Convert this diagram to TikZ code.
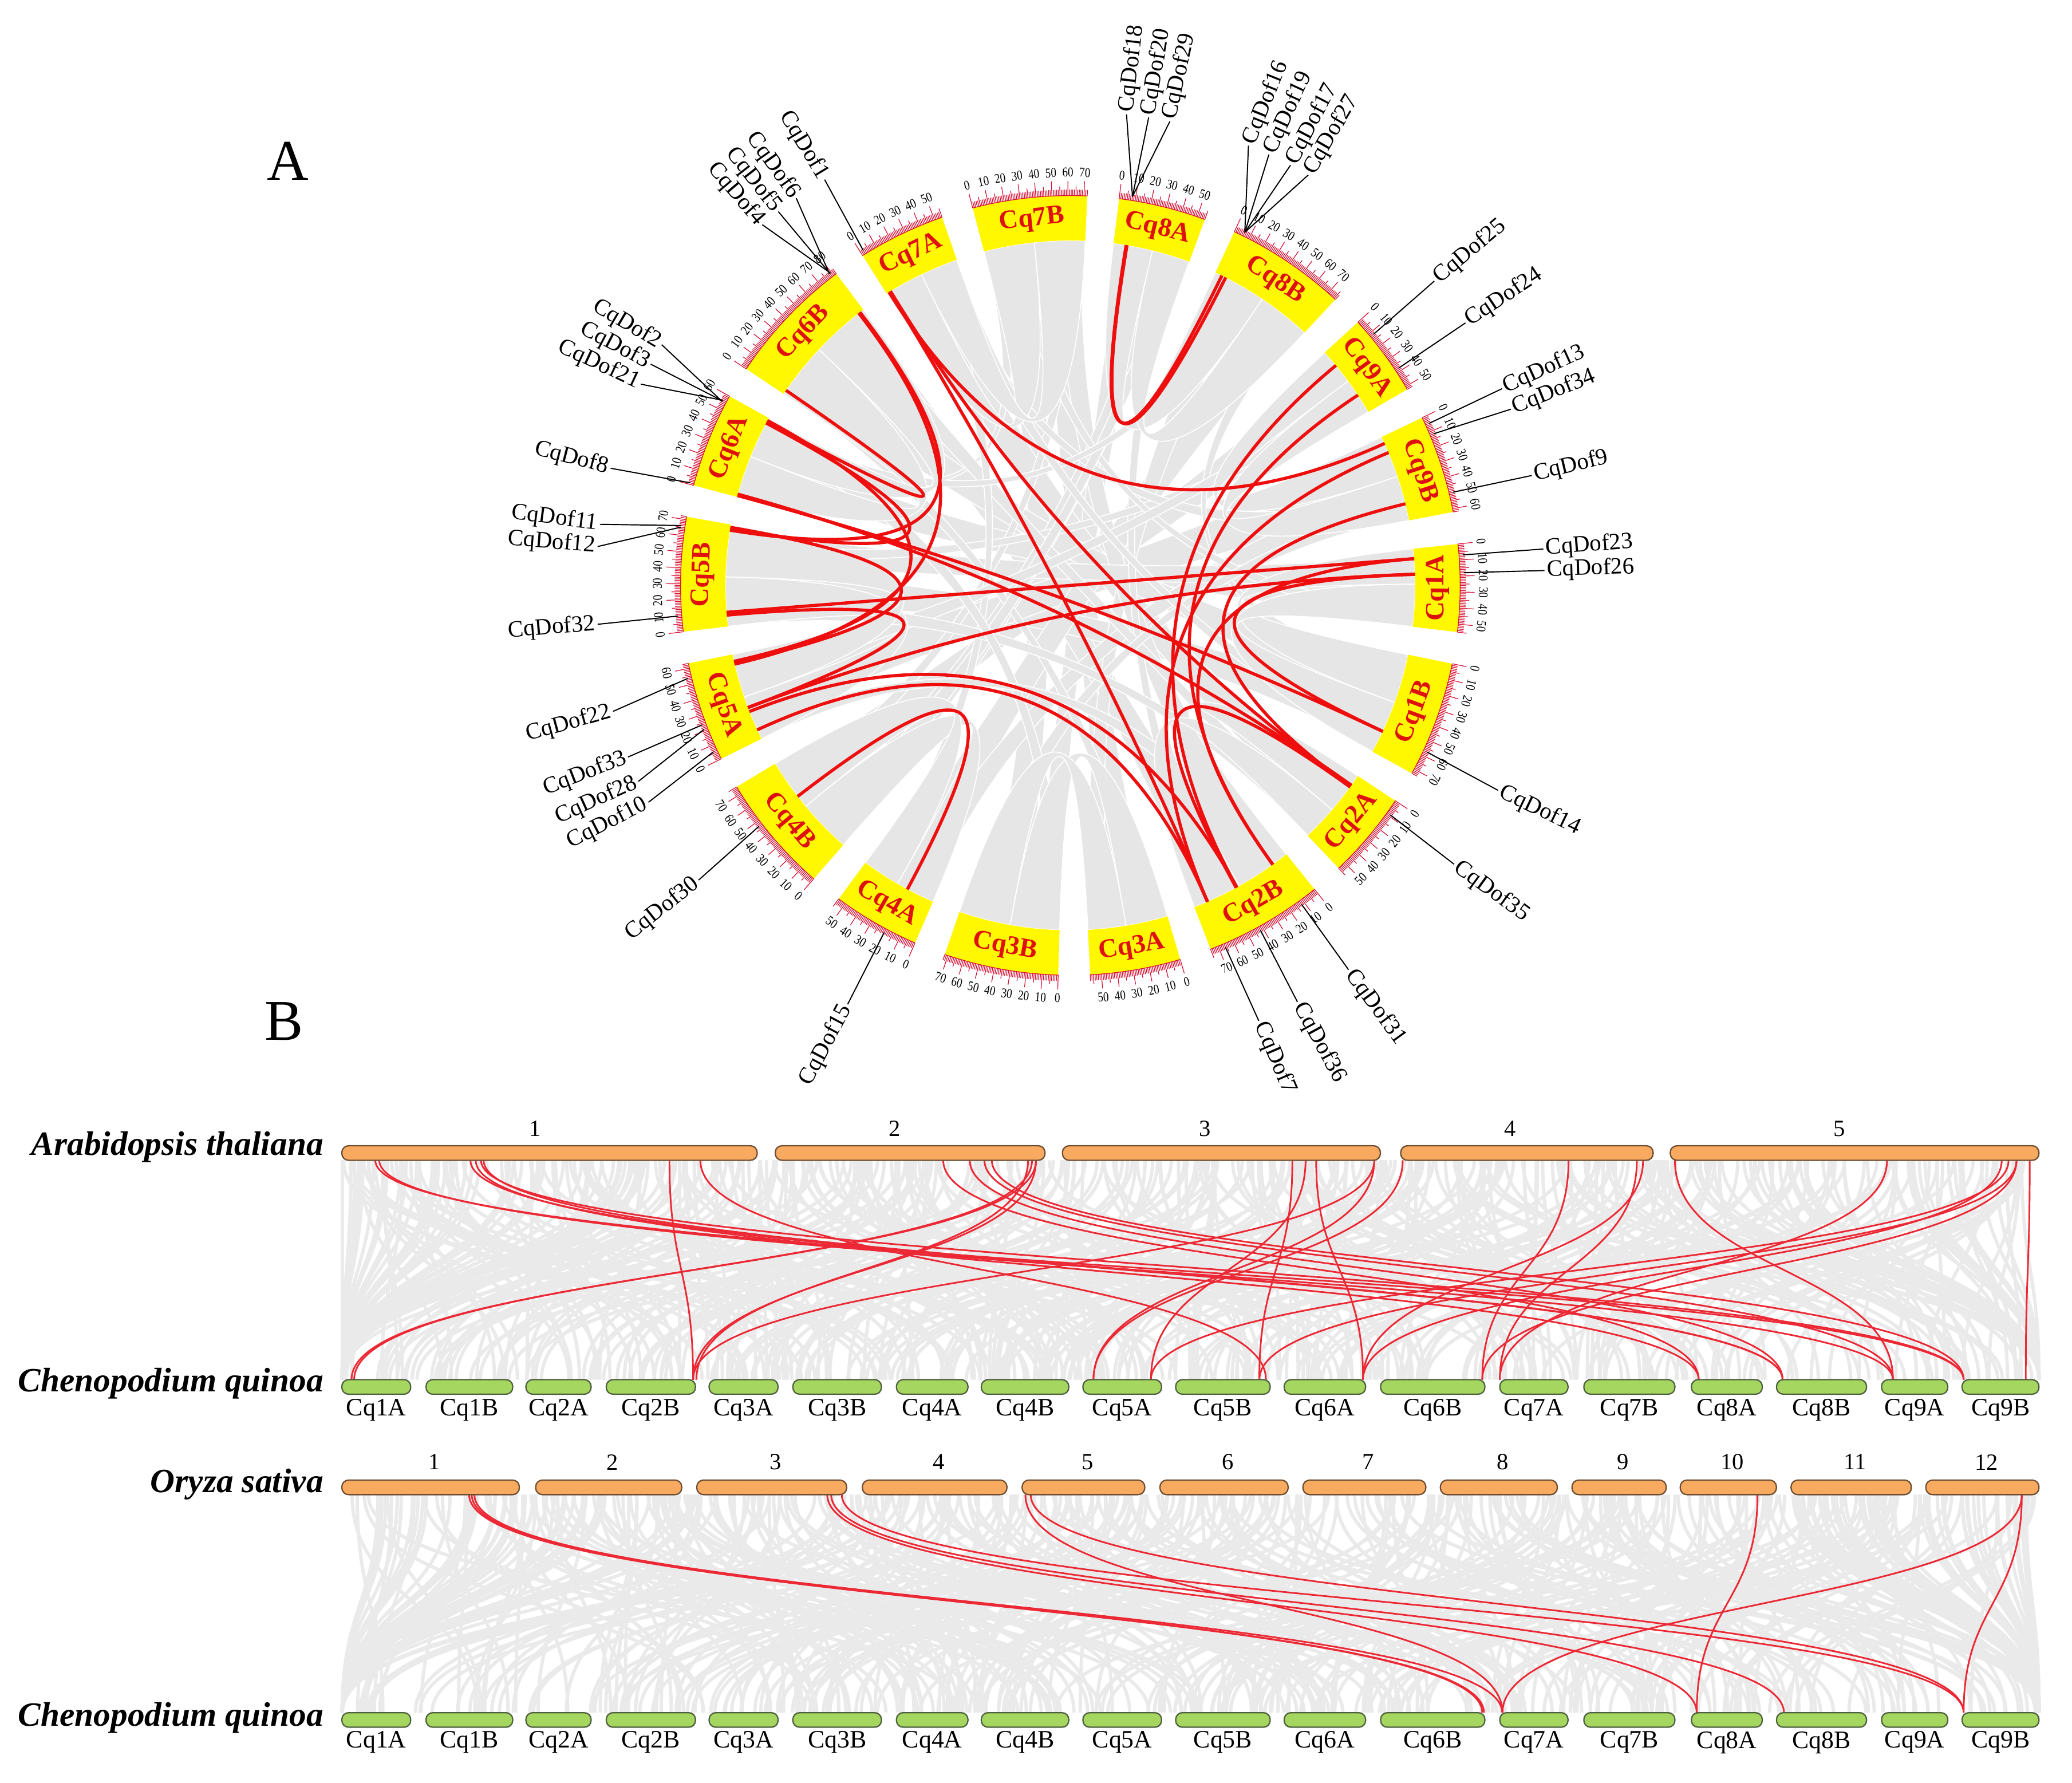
\documentclass[tikz,border=0pt]{standalone}
\usepackage{fontspec}
\setmainfont{Liberation Serif}
\usepackage{graphicx}
\definecolor{yel}{RGB}{255,248,0}
\definecolor{chrred}{RGB}{222,16,16}
\definecolor{tickred}{RGB}{214,16,52}
\definecolor{linkred}{RGB}{238,14,14}
\definecolor{ribgray}{RGB}{230,230,230}
\definecolor{bggray}{RGB}{234,234,234}
\definecolor{orangebar}{RGB}{248,170,96}
\definecolor{orangeedge}{RGB}{110,78,50}
\definecolor{greenbar}{RGB}{164,214,96}
\definecolor{greenedge}{RGB}{78,96,62}
\definecolor{bred}{RGB}{236,40,52}
\def\chrstarts{{6.10,-11.59,-33.53,-51.22,-73.63,-91.79,-113.49,-131.18,-153.59,-173.17,-194.87,-213.74,-237.80,-255.49,-277.19,-294.88,-317.53,-334.51}}
\def\sc{0.236}
\def\rin{261}
\def\rctl{87}
\def\rout{295}
\newcommand\ribbon[6]{%
  \pgfmathsetmacro\ra{\chrstarts[#1]-\sc*#2}%
  \pgfmathsetmacro\rb{\chrstarts[#1]-\sc*#3}%
  \pgfmathsetmacro\rc{\chrstarts[#4]-\sc*#5}%
  \pgfmathsetmacro\rd{\chrstarts[#4]-\sc*#6}%
  \filldraw[ribbon] (\ra:\rin) arc[start angle=\ra,end angle=\rb,radius=\rin]
     .. controls (\rb:\rctl) and (\rc:\rctl) .. (\rc:\rin) arc[start angle=\rc,end angle=\rd,radius=\rin]
     .. controls (\rd:\rctl) and (\ra:\rctl) .. cycle;}
\newcommand\chord[4]{%
  \pgfmathsetmacro\ca{\chrstarts[#1]-\sc*#2}%
  \pgfmathsetmacro\cb{\chrstarts[#3]-\sc*#4}%
  \coordinate (chA) at (\ca:\rin);
  \coordinate (chB) at (\cb:\rin);
  \draw[chord] (chA) .. controls (\ca:\rctl) and (\cb:\rctl) .. (chB);}
\begin{document}
\begin{tikzpicture}[x=0.025cm,y=0.025cm,
  tickln/.style={draw=tickred,line width=0.38pt},
  numlab/.style={inner sep=0.6pt,font=\fontsize{7.2}{8}\selectfont,text=black},
  chrname/.style={text=chrred,font=\fontsize{14.3}{16}\selectfont\bfseries,inner sep=0pt},
  genelab/.style={font=\fontsize{12.6}{14}\selectfont,inner sep=1.2pt},
  leader/.style={draw=black,line width=0.6pt},
  ribbon/.style={fill=ribgray,draw=white,line width=0.5pt},
  chord/.style={draw=linkred,line width=1.7pt},
  bglink/.style={draw=bggray,line width=1.8pt},
  redlink/.style={draw=bred,line width=0.9pt},
  spec/.style={font=\fontsize{18.3}{21}\selectfont\bfseries\itshape,anchor=east,inner sep=0pt},
  chrlab/.style={font=\fontsize{13.5}{15}\selectfont,inner sep=0pt},
  numtop/.style={font=\fontsize{12.5}{14}\selectfont,inner sep=0pt},
  panel/.style={font=\fontsize{31}{34}\selectfont,inner sep=0pt},
  obar/.style={fill=orangebar,draw=orangeedge,line width=0.7pt,rounded corners=3.6pt},
  gbar/.style={fill=greenbar,draw=greenedge,line width=0.7pt,rounded corners=3.6pt}]
\useasboundingbox (0,0) rectangle (1568,1349);
\fill[white] (0,0) rectangle (1568,1349);
\node[panel] (labA) at (218,1227) {A};
\node[panel] (labB) at (215,576) {B};

% ---------------- Part A: circos ----------------
\begin{scope}[shift={(810,906)}]
  \foreach \pa/\pb/\pc/\pd/\pe/\pf in {13/5/35/5/25/55, 13/40/70/4/10/40, 5/0/20/14/5/30, 7/40/70/16/10/40,
     3/40/70/11/50/80, 1/40/70/9/10/40, 0/20/50/10/10/40, 17/10/50/8/10/50, 15/40/70/6/10/40,
     12/10/40/2/10/40, 11/10/40/1/10/40, 4/40/55/15/10/30, 6/5/25/17/35/55, 3/5/30/13/50/70,
     9/45/70/0/5/25, 14/30/50/7/5/30,
     13/0/10/10/40/50, 13/60/70/7/50/60, 14/40/50/3/55/65, 16/40/50/9/50/60, 17/40/55/12/40/50,
     11/60/75/2/40/50, 1/10/20/15/60/70, 0/40/50/13/20/30, 5/55/70/17/50/60, 4/10/20/11/0/10,
     7/10/25/14/40/50, 6/40/50/12/30/40, 8/40/55/16/30/40, 9/0/15/2/45/55, 10/40/55/5/0/12,
     3/10/25/8/0/10, 15/20/30/10/45/55, 12/45/55/1/60/70,
     0/0/25/1/0/35, 0/25/55/1/35/73, 2/0/30/3/0/40, 2/30/55/3/40/75, 4/0/30/5/0/35, 4/30/57/5/35/72,
     6/0/28/7/0/38, 6/28/55/7/38/75, 8/0/32/9/0/35, 8/32/63/9/35/72, 10/0/30/11/0/40, 10/30/60/11/40/82,
     12/0/28/13/0/36, 12/28/55/13/36/72, 14/0/28/15/0/38, 14/28/55/15/38/76, 16/0/26/17/0/30, 16/26/52/17/30/62}
     {\ribbon{\pa}{\pb}{\pc}{\pd}{\pe}{\pf}}

  \foreach \nm/\st/\len/\nmode/\tmode in {Cq1A/6.10/55/0/1, Cq1B/-11.59/73/0/1, Cq2A/-33.53/55/0/0,
     Cq2B/-51.22/75/0/0, Cq3A/-73.63/57/0/0, Cq3B/-91.79/72/0/0, Cq4A/-113.49/55/0/0, Cq4B/-131.18/75/0/0,
     Cq5A/-153.59/63/0/0, Cq5B/-173.17/72/1/1, Cq6A/-194.87/60/1/1, Cq6B/-213.74/82/1/1, Cq7A/-237.80/55/1/1,
     Cq7B/-255.49/72/1/1, Cq8A/-277.19/55/1/1, Cq8B/-294.88/76/1/1, Cq9A/-317.53/52/1/1, Cq9B/-334.51/62/1/1}{
    \pgfmathsetmacro\en{\st-\sc*\len}
    \pgfmathsetmacro\md{(\st+\en)/2}
    \fill[yel] (\st:\rin) arc[start angle=\st,end angle=\en,radius=\rin] -- (\en:\rout)
       arc[start angle=\en,end angle=\st,radius=\rout] -- cycle;
    \draw[tickln] (\st:\rout) arc[start angle=\st,end angle=\en,radius=\rout];
    \foreach \k in {0,...,\len}{
      \pgfmathsetmacro\ta{\st-\sc*\k}
      \pgfmathsetmacro\tr{\rout+(mod(\k,10)==0 ? 11 : (mod(\k,5)==0 ? 7 : 4.5))}
      \draw[tickln] (\ta:\rout) -- (\ta:\tr);
    }
    \foreach \k in {0,10,...,\len}{
      \pgfmathsetmacro\ta{\st-\sc*\k}
      \ifnum\tmode=1
        \node[numlab,anchor=south,rotate=\ta-90] at (\ta:308) {\scalebox{0.82}[1]{\k}};
      \else
        \node[numlab,anchor=north,rotate=\ta+90] at (\ta:308) {\scalebox{0.82}[1]{\k}};
      \fi
    }
    \ifnum\nmode=1
      \node[chrname,rotate=\md-90] (n-\nm) at (\md:278) {\nm};
    \else
      \node[chrname,rotate=\md+90] (n-\nm) at (\md:278) {\nm};
    \fi
  }

  \foreach \pa/\pb/\pc/\pd in {14/9/15/5, 14/9.6/15/8, 12/2/17/5, 12/2.6/3/65, 12/3.2/2/9, 11/78/8/56,
     11/79/9/68, 11/3/10/57, 10/56/9/69, 10/58/8/58, 10/1/1/57, 9/70/8/57, 9/10/0/7, 9/8/8/24,
     8/24/0/18, 8/21/3/42, 8/7/3/65, 7/47/6/20, 0/7/3/12, 0/18/1/57, 16/12/3/42, 16/38/3/12,
     17/12/3/65, 17/50/2/9, 2/9.5/3/42.5, 10/2/2/8}
     {\chord{\pa}{\pb}{\pc}{\pd}}

  \foreach \lab/\ci/\mb/\ph in {CqDof1/12/2/121.2, CqDof6/11/78.6/125.3, CqDof5/11/79/128.0,
     CqDof4/11/79.4/130.5, CqDof2/10/55/149.5, CqDof3/10/55.4/152.2, CqDof21/10/55.8/154.9,
     CqDof8/10/1/165.7, CqDof11/9/66/172.6, CqDof12/9/65/175.3, CqDof32/9/10/184.7,
     CqDof22/8/54/195.4, CqDof33/8/24/201.2, CqDof28/8/21/204.4, CqDof10/8/6/207.2,
     CqDof30/7/47/218.4, CqDof15/6/20/242, CqDof7/3/66/-66.6, CqDof36/3/42/-61.4,
     CqDof31/3/12/-54.1, CqDof35/2/9/-36, CqDof14/1/57/-25.6, CqDof26/0/18/1.8,
     CqDof23/0/7/4.4, CqDof9/17/50/13.4, CqDof34/17/12/21.8, CqDof13/17/5/24.5,
     CqDof24/16/38/33.6, CqDof25/16/12/39.9, CqDof27/15/6/59.9, CqDof17/15/6/62.35,
     CqDof19/15/6/65.26, CqDof16/15/6/67.95, CqDof29/14/8/77.9, CqDof20/14/8/80.5, CqDof18/14/8/83.2}{
    \pgfmathsetmacro\ga{\chrstarts[\ci]-\sc*\mb}
    \coordinate (g-\lab) at (\ga:298);
    \pgfmathsetmacro\cp{cos(\ph)}
    \ifdim\cp pt>0pt
      \node[genelab,anchor=west,rotate=\ph] (l-\lab) at (\ph:359) {\lab};
      \draw[leader] (g-\lab) -- (l-\lab.west);
    \else
      \node[genelab,anchor=east,rotate=\ph-180] (l-\lab) at (\ph:359) {\lab};
      \draw[leader] (g-\lab) -- (l-\lab.east);
    \fi
  }
\end{scope}

% ---------------- Part B: synteny ----------------
\pgfmathsetseed{11}
\foreach \i in {1,...,480}{
  \pgfmathsetmacro\xt{259+rnd*1284}
  \pgfmathsetmacro\xb{max(259,min(1543,\xt+(rnd-0.5)*800))}
  \draw[bglink] (\xt,471) .. controls (\xt,388) and (\xb,388) .. (\xb,305);
}
\foreach \i in {1,...,480}{
  \pgfmathsetmacro\xt{259+rnd*1284}
  \pgfmathsetmacro\xb{max(259,min(1543,\xt+(rnd-0.5)*900))}
  \draw[bglink] (\xt,218) .. controls (\xt,135.5) and (\xb,135.5) .. (\xb,53);
}

\foreach \xt/\xb in {284/1486, 287/1432.5, 356/1349, 360/1285.5, 364/1486, 366/1349, 506.6/524.5,
   530/958, 713.8/1285.5, 733.9/1349, 750.6/1486, 745/1432.5, 784/266, 781/268, 784/524.5, 778/527,
   978/953, 988/871, 996/1031.5, 1040/524.5, 1040/827.5, 1061.5/827.5, 1187/1121.7, 1238.7/1135,
   1243.4/1031.5, 1267.5/1432.5, 1428/1135, 1514.8/1031.5, 1526/1121.7, 1526/953, 1536/1533, 1520/871}{
  \coordinate (rt) at (\xt,471);
  \coordinate (rb) at (\xb,305);
  \draw[redlink] (rt) .. controls (\xt,388) and (\xb,388) .. (rb);
}
\foreach \xt/\xb in {355/1121.7, 357/1123, 359/1136.8, 626/1284, 629/1350, 637/1486, 776/1137,
   780/1486, 1330/1284, 1530/1486, 1530/1137}{
  \coordinate (rt) at (\xt,218);
  \coordinate (rb) at (\xb,53);
  \draw[redlink] (rt) .. controls (\xt,135.5) and (\xb,135.5) .. (rb);
}

\foreach \xa/\xb/\lb/\lx in {258.7/573/1/405, 586.7/790.8/2/677, 804/1044.6/3/912, 1060/1251/4/1143, 1264/1543/5/1392}{
  \draw[obar] (\xa,471) rectangle (\xb,482);
  \node[numtop] (at-\lb) at (\lx,495) {\lb};
}
\foreach \xa/\xb/\lb in {258.7/393/1, 405.4/515.9/2, 527.3/640.7/3, 652.6/762/4, 773.5/866.3/5,
   877.8/974.8/6, 986/1079/7, 1090/1178.5/8, 1189.6/1260.9/9, 1271.5/1344.3/10, 1355.4/1446.4/11, 1457.4/1543/12}{
  \draw[obar] (\xa,218) rectangle (\xb,229);
  \node[numtop] (os-\lb) at ({(\xa+\xb)/2+3},242.6) {\lb};
}
\foreach \xa/\xb/\nm in {258.7/310.8/Cq1A, 322.4/388/Cq1B, 398/447.3/Cq2A, 458.8/526.3/Cq2B,
   536.6/588.8/Cq3A, 600/667/Cq3B, 678.4/732.5/Cq4A, 742.6/808.8/Cq4B, 819.5/879/Cq5A,
   889.7/961.2/Cq5B, 971.8/1033.4/Cq6A, 1044.8/1123.7/Cq6B, 1135/1186.6/Cq7A, 1198.6/1267.5/Cq7B,
   1280/1333.6/Cq8A, 1344.4/1412.5/Cq8B, 1423.9/1474/Cq9A, 1484.8/1543/Cq9B}{
  \draw[gbar] (\xa,294) rectangle (\xb,305);
  \node[chrlab] (ga-\nm) at ({(\xa+\xb)/2},282) {\nm};
  \draw[gbar] (\xa,42) rectangle (\xb,53);
  \node[chrlab] (gb-\nm) at ({(\xa+\xb)/2},30.5) {\nm};
}

\node[spec] (spAt) at (245,481) {Arabidopsis thaliana};
\node[spec] (spCq1) at (245,302) {Chenopodium quinoa};
\node[spec] (spOs) at (245,226) {Oryza sativa};
\node[spec] (spCq2) at (245,49) {Chenopodium quinoa};
\end{tikzpicture}
\end{document}
